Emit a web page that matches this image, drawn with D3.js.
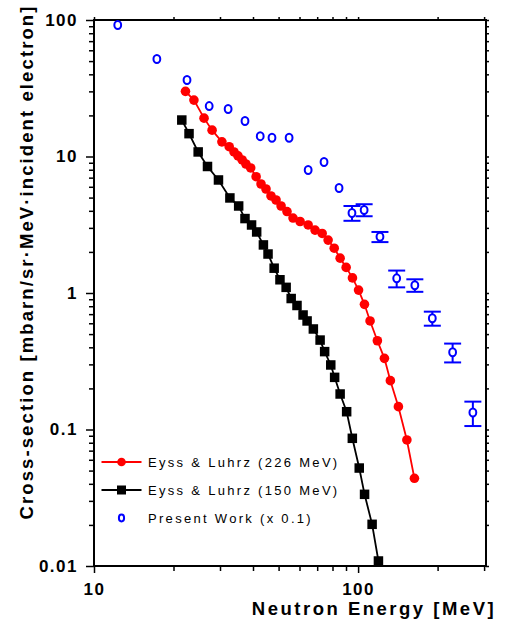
<!DOCTYPE html>
<html>
<head>
<meta charset="utf-8">
<script src="https://cdn.jsdelivr.net/npm/d3@7"></script>
<style>
  body { margin: 0; background: #fff; }
  svg { font-family: Arial, "Liberation Sans", sans-serif; display: block; }
</style>
</head>
<body>
<div id="chart"></div>
<script>
// Eyss & Luhrz (226 MeV) - neutron energy [MeV] and cross-section
const redE = [22.2, 23.9, 26.1, 28.0, 30.5, 32.5, 33.9, 35.1, 36.4, 37.6, 39.2, 41.1, 42.9, 44.8,
              46.8, 48.9, 51.1, 53.8, 56.7, 60.3, 64.7, 68.7, 73.1, 77.0, 81.2, 85.5, 90.1, 95.2,
              100.4, 105.7, 111.0, 118.3, 125.8, 132.5, 142.1, 153.0, 163.4];
const redY = [30.0, 25.9, 19.1, 15.6, 12.8, 11.8, 10.8, 10.1, 9.43, 8.81, 8.24, 7.11, 6.29, 5.78,
              5.14, 4.80, 4.34, 3.95, 3.54, 3.34, 3.15, 2.89, 2.73, 2.44, 2.13, 1.80, 1.54, 1.29,
              1.05, 0.826, 0.624, 0.447, 0.332, 0.228, 0.147, 0.0838, 0.0439];

// Eyss & Luhrz (150 MeV)
const blackE = [21.5, 22.9, 24.8, 26.9, 29.6, 32.7, 35.3, 37.3, 39.5, 41.3, 43.8, 45.6, 48.1, 50.6,
                53.4, 55.8, 58.7, 61.9, 64.1, 67.7, 71.8, 74.7, 78.8, 81.5, 85.5, 90.5, 95.1,
                101.0, 105.8, 113.0, 119.4];
const blackY = [18.5, 14.7, 10.8, 8.45, 6.73, 4.97, 4.34, 3.51, 3.15, 2.80, 2.25, 1.93, 1.52, 1.25,
                1.10, 0.911, 0.810, 0.690, 0.624, 0.545, 0.452, 0.372, 0.297, 0.241, 0.182, 0.135,
                0.0862, 0.0522, 0.0335, 0.0202, 0.01088];

// Present work (x 0.1), errors only given for the higher energies
const blueE = [12.3, 17.3, 22.5, 27.3, 32.2, 37.3, 42.6, 47.2, 54.8, 64.7, 74.3, 84.7,
               94.8, 105.4, 121, 140, 164, 191, 228, 272];
const blueY = [91.9, 51.8, 36.3, 23.4, 22.3, 18.2, 14.1, 13.7, 13.7, 7.96, 9.12, 5.88,
               3.86, 4.06, 2.58, 1.28, 1.14, 0.653, 0.368, 0.133];
const blueErr = [0, 0, 0, 0, 0, 0, 0, 0, 0, 0, 0, 0,
                 0.48, 0.41, 0.22, 0.18, 0.12, 0.077, 0.058, 0.027];

const xTickLabels = [10, 100];
const yTickLabels = [0.01, 0.1, 1, 10, 100];
const legendLabels = ["Eyss & Luhrz (226 MeV)", "Eyss & Luhrz (150 MeV)", "Present Work (x 0.1)"];

makeChart();

function makeChart() {
    const W = 508, H = 626;
    const margin = {top: 20, right: 22, bottom: 60, left: 94};
    const w = W - margin.left - margin.right;
    const h = H - margin.top - margin.bottom;

    const svg = d3.select("#chart")
                  .append("svg")
                  .attr("width", W)
                  .attr("height", H);

    const g = svg.append("g")
                 .attr("transform", `translate(${margin.left},${margin.top})`);

    const x = d3.scaleLog().domain([10, 305]).range([0, w]);
    const y = d3.scaleLog().domain([0.01, 100]).range([h, 0]);

    const xMinor = x.ticks().filter(d => !xTickLabels.includes(d));
    const yMinor = y.ticks().filter(d => !yTickLabels.some(v => Math.abs(v - d) < 1e-9));

    // bottom axis
    g.append("g")
     .attr("transform", `translate(0,${h})`)
     .call(d3.axisBottom(x).tickValues(xMinor).tickSize(5).tickFormat(""));
    g.append("g")
     .attr("class", "lab")
     .attr("transform", `translate(0,${h})`)
     .call(d3.axisBottom(x).tickValues(xTickLabels).tickSize(7).tickPadding(10)
                .tickFormat(d3.format("~g")));

    // left axis
    g.append("g")
     .call(d3.axisLeft(y).tickValues(yMinor).tickSize(5).tickFormat(""));
    g.append("g")
     .attr("class", "lab")
     .call(d3.axisLeft(y).tickValues(yTickLabels).tickSize(8).tickPadding(8)
                .tickFormat(d3.format("~g")));

    // top and right: short ticks, no labels
    g.append("g")
     .call(d3.axisTop(x).tickValues(x.ticks()).tickSize(3).tickFormat(""));
    g.append("g")
     .attr("transform", `translate(${w},0)`)
     .call(d3.axisRight(y).tickValues(y.ticks()).tickSize(3).tickFormat(""));

    g.selectAll(".domain").remove();
    g.selectAll(".tick line").attr("stroke", "#000").attr("stroke-width", 1.5);
    g.selectAll(".lab text")
     .attr("fill", "#000")
     .style("font-size", "17px")
     .style("font-weight", "bold")
     .style("letter-spacing", "1.5px");

    g.append("rect")
     .attr("width", w)
     .attr("height", h)
     .attr("fill", "none")
     .attr("stroke", "#000")
     .attr("stroke-width", 2);

    // axis titles
    svg.append("text")
       .attr("x", 374)
       .attr("y", 615)
       .attr("text-anchor", "middle")
       .style("font-size", "18.5px")
       .style("font-weight", "bold")
       .style("letter-spacing", "2.5px")
       .text("Neutron Energy [MeV]");

    svg.append("text")
       .attr("transform", "translate(33,262)rotate(-90)")
       .attr("text-anchor", "middle")
       .style("font-size", "18.5px")
       .style("font-weight", "bold")
       .style("letter-spacing", "2.1px")
       .text("Cross-section [mbarn/sr\u00b7MeV\u00b7incident electron]");

    const red = redE.map((e, i) => ({e: e, v: redY[i]}));
    const black = blackE.map((e, i) => ({e: e, v: blackY[i]}));
    const blue = blueE.map((e, i) => ({e: e, v: blueY[i], err: blueErr[i]}));

    const line = d3.line().x(d => x(d.e)).y(d => y(d.v));

    // 150 MeV series
    g.append("path")
     .datum(black)
     .attr("d", line)
     .attr("fill", "none")
     .attr("stroke", "#000")
     .attr("stroke-width", 1.8);
    g.selectAll(".sq")
     .data(black)
     .enter()
     .append("rect")
     .attr("class", "sq")
     .attr("x", d => x(d.e) - 4.75)
     .attr("y", d => y(d.v) - 4.75)
     .attr("width", 9.5)
     .attr("height", 9.5)
     .attr("fill", "#000");

    // 226 MeV series
    g.append("path")
     .datum(red)
     .attr("d", line)
     .attr("fill", "none")
     .attr("stroke", "#ff0000")
     .attr("stroke-width", 1.8);
    g.selectAll(".dot")
     .data(red)
     .enter()
     .append("circle")
     .attr("class", "dot")
     .attr("cx", d => x(d.e))
     .attr("cy", d => y(d.v))
     .attr("r", 4.8)
     .attr("fill", "#ff0000");

    // present work with error bars
    const withErr = blue.filter(d => d.err > 0);
    const eb = g.selectAll(".eb")
                .data(withErr)
                .enter()
                .append("g")
                .attr("class", "eb")
                .attr("stroke", "#0000ff")
                .attr("stroke-width", 2);
    eb.append("line")
      .attr("x1", d => x(d.e)).attr("x2", d => x(d.e))
      .attr("y1", d => y(d.v + d.err)).attr("y2", d => y(d.v - d.err));
    eb.append("line")
      .attr("x1", d => x(d.e) - 8.5).attr("x2", d => x(d.e) + 8.5)
      .attr("y1", d => y(d.v + d.err)).attr("y2", d => y(d.v + d.err));
    eb.append("line")
      .attr("x1", d => x(d.e) - 8.5).attr("x2", d => x(d.e) + 8.5)
      .attr("y1", d => y(d.v - d.err)).attr("y2", d => y(d.v - d.err));

    g.selectAll(".ring")
     .data(blue)
     .enter()
     .append("ellipse")
     .attr("class", "ring")
     .attr("cx", d => x(d.e))
     .attr("cy", d => y(d.v))
     .attr("rx", 3.4)
     .attr("ry", 4)
     .attr("fill", "#fff")
     .attr("stroke", "#0000ff")
     .attr("stroke-width", 2);

    // legend
    const leg = svg.append("g");
    const rows = [462, 490, 518];
    leg.append("line").attr("x1", 101.5).attr("x2", 141.5).attr("y1", rows[0]).attr("y2", rows[0])
       .attr("stroke", "#ff0000").attr("stroke-width", 1.8);
    leg.append("circle").attr("cx", 121.5).attr("cy", rows[0]).attr("r", 4.3).attr("fill", "#ff0000");
    leg.append("line").attr("x1", 101.5).attr("x2", 141.5).attr("y1", rows[1]).attr("y2", rows[1])
       .attr("stroke", "#000").attr("stroke-width", 1.8);
    leg.append("rect").attr("x", 121.5 - 4.5).attr("y", rows[1] - 4.5).attr("width", 9).attr("height", 9)
       .attr("fill", "#000");
    leg.append("ellipse").attr("cx", 121.5).attr("cy", rows[2]).attr("rx", 2.6).attr("ry", 3.4)
       .attr("fill", "#fff").attr("stroke", "#0000ff").attr("stroke-width", 2);

    leg.selectAll(".lt")
       .data(legendLabels)
       .enter()
       .append("text")
       .attr("class", "lt")
       .attr("x", 148)
       .attr("y", (d, i) => rows[i])
       .attr("dy", "0.35em")
       .style("font-size", "13px")
       .style("letter-spacing", "2.3px")
       .text(d => d);
}
</script>
</body>
</html>
